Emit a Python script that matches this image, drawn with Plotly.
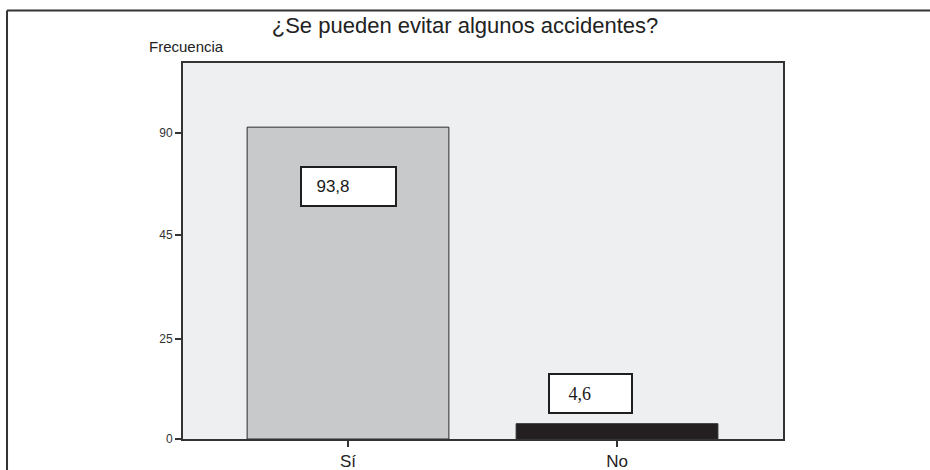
import plotly.graph_objects as go

# Survey answers and their percentages
categories = ["Sí", "No"]
values = [93.8, 4.6]
value_labels = ["93,8", "4,6"]

# Frequency axis: printed tick labels and where they sit on the value scale
tick_labels = ["0", "25", "45", "90"]
tick_values = [0, 30.1, 61.4, 92.0]

bar_colors = ["#C8C9CB", "#231F20"]
SANS = "Liberation Sans, Arial, sans-serif"
SERIF = "Liberation Serif, Times New Roman, serif"

fig = go.Figure(
    go.Bar(
        x=list(range(len(categories))),
        y=values,
        width=0.75,
        marker=dict(color=bar_colors, line=dict(color="#2b2b2b", width=1)),
        hoverinfo="skip",
    )
)

# Boxed value labels: one inside the tall bar, one above the short bar
label_styles = [
    dict(yanchor="top", yshift=-39, xshift=0, width=83,
         font=dict(family=SANS, size=17, color="#1a1a1a"), pad="\u00a0\u00a0"),
    dict(yanchor="bottom", yshift=10, xshift=-26.5, width=71,
         font=dict(family=SERIF, size=18, color="#1a1a1a"), pad="\u00a0\u00a0\u00a0"),
]
for i, (v, lab) in enumerate(zip(values, value_labels)):
    st = label_styles[i]
    fig.add_annotation(
        x=i, y=v, xref="x", yref="y",
        text=st["pad"] + lab,
        showarrow=False,
        xanchor="center", yanchor=st["yanchor"],
        xshift=st["xshift"], yshift=st["yshift"],
        width=st["width"], height=27, align="left", valign="middle",
        bgcolor="white", bordercolor="#1f1f1f", borderwidth=2, borderpad=5,
        font=st["font"],
    )

# Axis caption above the frequency axis
fig.add_annotation(
    x=-0.06, y=1.0426, xref="paper", yref="paper",
    text="Frecuencia", showarrow=False,
    xanchor="left", yanchor="middle",
    font=dict(family=SANS, size=15, color="#222"),
)

# Outer page frame (top and left rules)
frame = dict(color="#333", width=2)
fig.add_shape(type="line", xref="paper", yref="paper",
              x0=-0.2933, x1=1.3, y0=1.1396, y1=1.1396, line=frame)
fig.add_shape(type="line", xref="paper", yref="paper",
              x0=-0.2933, x1=-0.2933, y0=1.1396, y1=-0.2, line=frame)

fig.update_layout(
    width=930, height=470,
    margin=dict(l=183, r=147, t=63, b=31, autoexpand=False),
    paper_bgcolor="white",
    plot_bgcolor="#EEEFF1",
    showlegend=False,
    title=dict(
        text="¿Se pueden evitar algunos accidentes?",
        x=0.5, xref="container", xanchor="center",
        y=1 - 25 / 470, yref="container", yanchor="middle",
        font=dict(family=SANS, size=22, color="#222"),
    ),
    xaxis=dict(
        range=[-0.6134, 1.617],
        tickvals=list(range(len(categories))),
        ticktext=categories,
        ticks="outside", ticklen=6, tickwidth=1.5, tickcolor="#333",
        showline=True, linecolor="#333", linewidth=2, mirror=True,
        showgrid=False, zeroline=False, automargin=False,
        tickfont=dict(family=SANS, size=17, color="#222"),
    ),
    yaxis=dict(
        range=[0, 113.1],
        tickvals=tick_values,
        ticktext=tick_labels,
        ticks="outside", ticklen=6, tickwidth=1.5, tickcolor="#333",
        showline=True, linecolor="#333", linewidth=2, mirror=True,
        showgrid=False, zeroline=False, automargin=False,
        tickfont=dict(family=SANS, size=12, color="#333"),
    ),
)

fig.write_html("out.html")
